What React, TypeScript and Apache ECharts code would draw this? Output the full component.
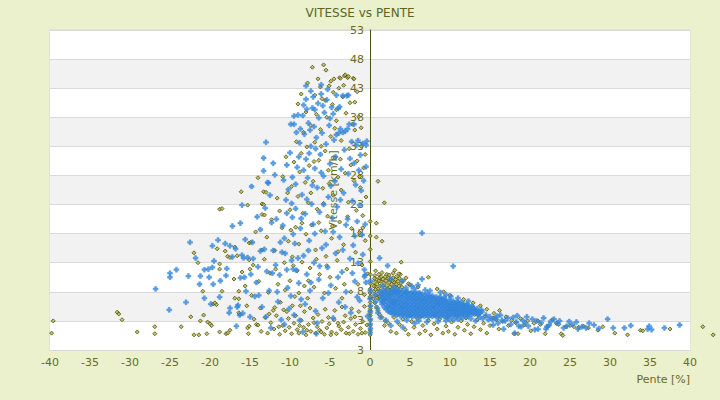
import React, { useEffect, useRef } from "react";
import * as echarts from "echarts";

const TITLE = "VITESSE vs PENTE";
const X_NAME = "Pente [%]";
const Y_NAME = "Vitesse [km/h]";
const X_MIN = -40;
const X_MAX = 40;
const X_STEP = 5;
const Y_MIN = -2;
const Y_MAX = 53;
const Y_STEP = 5;
const xTickLabels = ["-40", "-35", "-30", "-25", "-20", "-15", "-10", "-5", "0", "5", "10", "15", "20", "25", "30", "35", "40"];
const yTickLabels = ["3", "3", "8", "13", "18", "23", "28", "33", "38", "43", "48", "53"];

// olive diamonds, negative slopes: low band
const oliveLeftLow: number[][] = [
  [-39.6, 3.0], [-39.8, 0.9], [-31.6, 4.5], [-31.4, 4.2], [-31.0, 3.2], [-29.1, 1.1], [-26.9, 2.0], [-26.9, 0.8],
  [-23.6, 2.0], [-22.4, 3.7], [-22.0, 0.6], [-21.4, 0.6], [-21.2, 3.0], [-20.8, 4.0], [-20.4, 0.8], [-20.0, 2.5],
  [-20.3, 2.8], [-19.8, 2.2], [-19.6, 5.9], [-19.2, 5.8], [-18.8, 1.1], [-18.0, 0.8], [-17.8, 0.9], [-17.5, 1.4],
  [-16.4, 4.4], [-16.2, 4.1], [-15.3, 1.8], [-15.1, 2.1], [-15.2, 0.8], [-14.5, 3.3], [-14.2, 2.4], [-14.0, 2.3],
  [-13.6, 1.2], [-13.1, 3.6], [-12.8, 0.9], [-12.4, 2.7], [-12.0, 1.6], [-11.7, 3.9], [-11.3, 0.7], [-10.9, 2.2],
  [-10.6, 1.3], [-10.2, 3.4], [-9.8, 0.8], [-9.5, 2.6], [-9.1, 1.5], [-8.9, 0.9], [-8.6, 3.1], [-8.3, 1.9],
  [-8.0, 0.6], [-7.7, 2.4], [-7.4, 1.2], [-7.1, 3.5], [-6.8, 0.9], [-6.6, 2.0], [-6.3, 1.4], [-6.0, 2.9],
  [-5.7, 0.7], [-5.4, 1.8], [-5.1, 2.5], [-4.8, 1.1], [-4.5, 3.2], [-4.2, 0.8], [-3.9, 2.1], [-3.6, 1.5],
  [-3.3, 2.8], [-3.0, 0.9], [-2.7, 1.9], [-2.4, 3.4], [-2.1, 1.2], [-1.8, 2.4], [-1.5, 0.7], [-1.2, 1.7],
  [-0.9, 2.9], [-0.6, 1.0], [-12.6, 4.2], [-11.9, 5.3], [-11.4, 2.0], [-10.8, 4.9], [-10.1, 1.9], [-9.7, 5.6],
  [-9.3, 3.9], [-8.8, 2.2], [-8.2, 4.6], [-7.9, 1.4], [-7.5, 5.2], [-7.0, 2.7], [-6.5, 4.1], [-6.1, 1.1],
  [-5.6, 5.0], [-5.2, 3.6], [-4.9, 0.6], [-4.4, 4.8], [-4.0, 2.6], [-3.5, 5.4], [-3.1, 3.9], [-2.6, 0.8],
  [-2.3, 5.1], [-1.9, 3.7], [-1.4, 4.6], [-1.0, 0.9], [-0.7, 5.5], [-0.4, 2.3],
];

// olive diamonds, negative slopes: upper cloud
const oliveLeftHigh: number[][] = [
  [-22.0, 14.7], [-21.5, 13.0], [-20.9, 8.1], [-19.4, 6.1], [-19.1, 15.4], [-18.8, 22.2], [-18.5, 22.3], [-18.8, 12.8],
  [-18.8, 11.9], [-18.5, 8.1], [-18.1, 15.0], [-17.8, 14.1], [-17.5, 13.9], [-16.9, 15.7], [-16.6, 14.2], [-16.9, 6.9],
  [-16.4, 8.1], [-16.4, 6.8], [-16.1, 25.2], [-15.3, 22.9], [-15.1, 16.4], [-14.9, 16.5], [-15.1, 13.5], [-15.0, 11.9],
  [-14.0, 27.6], [-13.5, 21.3], [-13.2, 21.2], [-13.3, 25.2], [-13.0, 25.1], [-13.5, 23.1], [-13.3, 23.0], [-13.5, 15.2],
  [-17.0, 10.2], [-16.0, 11.4], [-15.6, 9.0], [-15.4, 5.6], [-14.8, 7.4], [-14.6, 12.6], [-14.3, 18.3], [-13.9, 9.8],
  [-13.7, 5.2], [-13.2, 13.6], [-12.9, 17.4], [-12.7, 7.9], [-12.5, 11.2], [-12.3, 20.4], [-12.1, 4.8], [-11.9, 15.1],
  [-11.6, 24.1], [-11.5, 9.3], [-11.2, 6.2], [-11.0, 19.0], [-10.9, 27.8], [-10.7, 13.0], [-10.5, 31.2], [-10.4, 4.6],
  [-10.2, 16.7], [-10.0, 22.1], [-10.0, 9.9], [-9.8, 26.1], [-9.7, 14.0], [-9.5, 30.3], [-9.4, 7.2], [-9.3, 19.1],
  [-9.2, 33.8], [-9.1, 11.6], [-9.0, 24.4], [-8.9, 16.2], [-8.8, 28.6], [-8.7, 5.6], [-8.6, 31.8], [-8.5, 13.1],
  [-8.4, 21.5], [-8.3, 35.4], [-8.2, 9.0], [-8.1, 26.8], [-8.0, 17.9], [-7.9, 32.9], [-7.8, 6.9], [-7.7, 23.3],
  [-7.6, 29.7], [-7.5, 12.1], [-7.4, 36.6], [-7.3, 19.5], [-7.2, 46.6], [-7.1, 27.0], [-7.0, 8.8], [-6.9, 33.7],
  [-6.8, 15.2], [-6.7, 38.5], [-6.6, 22.2], [-6.5, 44.6], [-6.4, 30.6], [-6.3, 11.0], [-6.2, 35.9], [-6.1, 18.5],
  [-6.0, 41.2], [-5.9, 25.8], [-5.8, 47.0], [-5.7, 7.8], [-5.6, 32.2], [-5.5, 46.1], [-5.5, 14.1], [-5.4, 38.0],
  [-5.3, 21.0], [-5.2, 28.9], [-5.1, 43.4], [-5.0, 10.5], [-4.9, 44.2], [-4.9, 34.7], [-4.8, 17.2], [-4.7, 40.2],
  [-4.6, 42.3], [-4.6, 24.6], [-4.5, 44.6], [-4.4, 31.0], [-4.3, 8.6], [-4.2, 37.4], [-4.1, 13.4], [-4.0, 27.7],
  [-3.9, 43.0], [-3.8, 44.8], [-3.8, 20.0], [-3.7, 44.7], [-3.6, 34.0], [-3.5, 6.9], [-3.4, 41.5], [-3.3, 43.5],
  [-3.3, 16.1], [-3.2, 45.1], [-3.1, 28.4], [-3.1, 45.3], [-3.0, 38.7], [-2.9, 11.9], [-2.8, 44.8], [-2.7, 45.0],
  [-2.7, 23.4], [-2.6, 32.6], [-2.5, 40.5], [-2.4, 8.0], [-2.3, 18.9], [-2.1, 44.7], [-2.0, 44.6], [-2.0, 27.1],
  [-1.9, 35.8], [-1.8, 14.8], [-1.7, 22.0], [-1.6, 30.5], [-1.5, 9.3], [-1.4, 38.1], [-1.3, 18.2], [-1.2, 25.9],
  [-1.1, 33.0], [-1.0, 12.6], [-0.9, 21.1], [-0.8, 29.3], [-0.7, 7.5], [-0.6, 16.8], [-0.5, 24.3], [-0.3, 11.1],
  [-11.8, 11.9], [-11.3, 21.9], [-10.6, 8.3], [-10.3, 25.0], [-9.6, 12.5], [-9.9, 18.6], [-8.9, 7.8], [-8.5, 19.8],
  [-8.0, 38.9], [-7.7, 9.9], [-7.4, 25.0], [-7.0, 30.4], [-6.7, 13.6], [-6.4, 19.9], [-6.1, 33.0], [-5.8, 23.2],
  [-5.4, 12.5], [-5.1, 26.6], [-4.7, 19.3], [-4.4, 36.1], [-4.0, 14.9], [-3.6, 25.5], [-3.2, 9.3], [-2.8, 20.9],
  [-2.4, 29.8], [-2.2, 36.8], [-1.6, 42.4], [-1.3, 27.8], [-0.9, 19.0], [-0.6, 31.6], [-8.6, 42.0], [-9.0, 40.3],
  [-7.8, 43.9], [-6.9, 41.8], [-6.2, 43.2], [-5.6, 40.9], [-4.2, 39.3], [-3.7, 30.8], [-1.9, 40.6], [-1.1, 36.2],
];

// olive diamonds sitting on the zero-slope line
const oliveZero: number[][] = [
  [0.02, 0.6], [0.03, 1.4], [0.02, 2.2], [0.04, 3.1], [0.02, 3.9], [0.03, 4.7], [0.02, 5.5], [0.03, 6.2],
  [0.02, 7.8], [0.03, 9.4], [0.02, 11.0], [0.03, 13.2], [0.02, 15.3], [0.03, 17.6], [0.02, 20.1],
  [0.02, 6.9], [0.04, 7.2], [0.03, 8.5], [0.02, 4.3], [0.03, 5.1],
];

// olive diamonds, positive slopes: cluster near 0-4 %
const oliveRightCluster: number[][] = [
  [0.5, 9.6], [0.6, 8.9], [0.5, 8.1], [0.7, 7.4], [0.8, 10.1], [0.9, 9.3], [1.0, 8.5], [1.0, 7.7],
  [1.1, 6.9], [1.2, 10.4], [1.3, 9.8], [1.3, 9.0], [1.4, 8.2], [1.5, 7.5], [1.6, 10.2], [1.7, 9.5],
  [1.8, 8.7], [1.8, 7.9], [1.9, 10.6], [2.0, 9.9], [2.1, 9.1], [2.2, 8.4], [2.3, 10.3], [2.4, 9.6],
  [2.5, 8.8], [2.6, 10.0], [2.7, 9.3], [2.8, 8.5], [2.9, 10.4], [3.0, 9.7], [3.1, 8.9], [3.2, 10.1],
  [3.3, 9.3], [3.4, 8.6], [3.5, 9.8], [3.6, 9.0], [3.7, 10.3], [3.9, 9.5], [4.0, 8.8], [4.2, 9.9],
  [0.4, 6.8], [0.6, 6.1], [0.8, 5.4], [1.0, 4.8], [1.2, 4.1], [1.5, 3.6], [1.9, 3.0], [2.3, 2.6],
  [2.1, 11.0], [1.5, 11.3], [2.9, 11.2], [3.8, 11.0], [4.5, 10.4], [4.8, 9.4], [0.7, 11.6],
  [0.6, 10.8], [1.1, 11.0], [1.4, 10.6], [0.9, 7.0], [1.2, 7.2], [2.0, 7.8], [2.5, 7.5], [3.0, 8.0],
  [1.7, 6.8], [0.45, 9.0], [0.55, 10.3], [2.4, 10.9], [3.3, 10.6], [3.6, 11.1], [2.8, 9.9], [1.1, 9.9], [0.7, 8.4],
  [1.0, 27.0], [1.8, 23.3], [0.8, 19.8], [0.8, 17.4], [1.5, 16.7], [3.1, 11.7], [3.9, 13.1], [7.3, 10.5], [5.0, 9.2],
];

// olive diamonds, positive slopes: below the dense band and the long tail
const oliveRightTail: number[][] = [
  [1.8, 2.2], [2.6, 1.2], [3.0, 3.6], [3.3, 0.9], [3.7, 2.4], [4.1, 3.3], [4.4, 1.5], [4.8, 0.7],
  [5.2, 2.9], [5.5, 1.9], [5.9, 3.4], [6.2, 0.8], [6.6, 2.2], [6.9, 1.3], [7.3, 3.1], [7.6, 0.6],
  [8.0, 2.5], [8.4, 1.6], [8.7, 3.3], [9.1, 0.9], [9.5, 2.1], [9.8, 1.2], [10.2, 2.8], [10.6, 0.7],
  [11.0, 1.9], [11.4, 3.0], [11.8, 1.4], [12.2, 2.4], [12.6, 0.8], [13.0, 2.0], [13.4, 3.2], [13.8, 1.5],
  [14.2, 2.6], [14.6, 0.9], [15.0, 2.2], [5.0, 3.9], [6.4, 3.8], [8.2, 4.0], [9.6, 3.6], [10.9, 3.8],
  [12.0, 3.5], [13.1, 4.1], [14.4, 3.8], [15.4, 3.5], [8.4, 8.5], [10.0, 7.4], [11.7, 6.7], [12.9, 6.1],
  [13.8, 5.6], [14.6, 5.0], [15.5, 4.3], [16.2, 4.8], [9.2, 8.0], [6.0, 8.8],
  [15.8, 3.2], [16.1, 1.6], [16.6, 2.9], [17.0, 3.7], [17.3, 2.2], [17.7, 3.1], [18.0, 0.8], [18.2, 2.7],
  [18.5, 0.8], [18.8, 3.4], [19.3, 2.3], [19.7, 3.0], [20.1, 1.3], [20.5, 2.6], [21.0, 3.0], [21.3, 2.4],
  [21.9, 0.8], [22.3, 2.1], [22.8, 3.2], [23.3, 2.6], [23.6, 2.4], [23.9, 0.8], [24.1, 0.5], [24.5, 2.0],
  [25.0, 2.2], [25.5, 2.0], [26.1, 1.9], [26.7, 2.1], [27.3, 1.8], [28.5, 1.4], [29.1, 2.0], [30.6, 0.9],
  [32.2, 0.6], [33.8, 1.4], [34.1, 1.3], [37.5, 1.6], [41.6, 2.0], [42.9, 0.6],
];

// blue crosses, negative slopes
const blueLeft: number[][] = [
  [-26.8, 8.5], [-25.1, 4.9], [-25.0, 11.2], [-25.0, 10.5], [-24.2, 11.8], [-22.7, 10.7], [-22.5, 16.5], [-21.3, 9.3],
  [-21.2, 10.7], [-20.7, 11.8], [-20.7, 6.9], [-20.2, 11.9], [-20.1, 10.5], [-19.9, 5.9], [-19.7, 12.2], [-19.7, 15.9],
  [-19.6, 9.3], [-19.5, 13.3], [-19.0, 16.9], [-18.7, 9.9], [-18.1, 16.3], [-18.0, 10.8], [-17.6, 4.4], [-17.5, 5.2],
  [-17.5, 15.9], [-17.2, 19.3], [-17.2, 14.0], [-16.8, 15.4], [-16.7, 2.1], [-16.6, 5.4], [-16.5, 5.7], [-16.3, 4.0],
  [-16.2, 19.8], [-16.2, 10.4], [-16.0, 22.9], [-16.0, 14.3], [-15.8, 13.8], [-15.7, 10.5], [-15.6, 17.0], [-15.3, 13.9],
  [-15.0, 3.7], [-14.9, 11.0], [-14.8, 26.1], [-14.6, 13.7], [-14.4, 7.2], [-14.2, 9.6], [-14.0, 12.3], [-13.7, 18.7],
  [-13.7, 15.0], [-13.5, 5.4], [-13.3, 28.8], [-13.3, 31.0], [-13.2, 15.3], [-13.0, 33.7], [-13.0, 3.7], [-12.9, 11.5],
  [-12.8, 26.8], [-12.7, 26.7], [-12.6, 8.2], [-12.4, 1.8], [-12.3, 19.9], [-12.1, 30.1], [-12.1, 15.1], [-11.9, 28.1],
  [-11.8, 12.6], [-11.7, 20.5], [-11.5, 6.3], [-11.3, 10.9], [-11.1, 3.2], [-11.0, 14.8], [-10.8, 27.2], [-10.7, 17.2],
  [-10.5, 23.8], [-10.4, 21.5], [-10.4, 11.8], [-10.3, 8.7], [-10.1, 5.1], [-10.0, 31.9], [-9.9, 36.8], [-9.8, 23.2],
  [-9.8, 13.4], [-9.7, 20.8], [-9.6, 11.9], [-9.5, 38.2], [-9.5, 36.8], [-9.5, 4.0], [-9.4, 16.3], [-9.3, 26.5],
  [-9.2, 11.7], [-9.1, 29.4], [-9.0, 38.4], [-8.9, 9.5], [-8.8, 33.6], [-8.7, 18.9], [-8.6, 6.7], [-8.5, 24.7],
  [-8.4, 38.3], [-8.4, 1.1], [-8.3, 14.2], [-8.2, 35.1], [-8.1, 21.4], [-8.0, 43.4], [-8.0, 41.1], [-8.0, 30.8],
  [-7.9, 11.0], [-7.8, 27.6], [-7.7, 37.0], [-7.6, 16.8], [-7.5, 35.8], [-7.5, 8.2], [-7.4, 42.5], [-7.4, 33.0],
  [-7.3, 23.1], [-7.2, 39.6], [-7.1, 19.6], [-7.0, 13.0], [-7.0, 36.4], [-6.9, 29.2], [-6.8, 4.7], [-6.7, 0.8],
  [-6.7, 34.5], [-6.6, 25.9], [-6.5, 40.4], [-6.4, 10.1], [-6.4, 37.9], [-6.3, 21.7], [-6.2, 31.6], [-6.1, 43.6],
  [-6.1, 42.0], [-6.0, 15.5], [-6.0, 35.3], [-5.9, 6.9], [-5.8, 27.9], [-5.7, 38.8], [-5.6, 18.4], [-5.5, 33.4],
  [-5.4, 41.0], [-5.3, 42.8], [-5.3, 12.2], [-5.2, 24.3], [-5.1, 36.6], [-5.0, 30.0], [-4.9, 9.1], [-4.8, 39.7],
  [-4.7, 20.7], [-4.6, 3.5], [-4.5, 34.1], [-4.4, 27.0], [-4.3, 14.6], [-4.2, 41.8], [-4.2, 35.0], [-4.1, 22.6],
  [-4.0, 39.5], [-3.9, 35.3], [-3.9, 6.2], [-3.8, 39.8], [-3.8, 17.4], [-3.7, 36.0], [-3.6, 29.1], [-3.5, 11.4],
  [-3.4, 41.7], [-3.4, 35.4], [-3.3, 25.0], [-3.2, 32.4], [-3.1, 35.6], [-3.0, 8.0], [-3.0, 19.5], [-2.9, 41.7],
  [-2.8, 36.0], [-2.7, 41.8], [-2.7, 28.3], [-2.6, 36.8], [-2.5, 13.7], [-2.4, 4.4], [-2.3, 33.8], [-2.2, 23.6],
  [-2.1, 16.0], [-2.0, 36.8], [-2.0, 30.1], [-1.9, 9.8], [-1.8, 26.4], [-1.7, 33.2], [-1.6, 20.1], [-1.5, 34.0],
  [-1.5, 12.9], [-1.4, 28.9], [-1.3, 6.5], [-1.2, 31.5], [-1.1, 25.4], [-1.0, 17.8], [-0.9, 33.5], [-0.8, 27.1],
  [-0.7, 10.6], [-0.5, 33.2], [-0.5, 29.5], [-0.4, 33.9], [-0.3, 3.8],
  [-10.9, 19.4], [-10.6, 14.6], [-10.2, 25.6], [-9.9, 7.3], [-9.6, 17.9], [-9.3, 22.3], [-9.0, 13.8], [-8.8, 3.1],
  [-8.6, 20.6], [-8.3, 28.9], [-8.1, 5.9], [-7.9, 23.9], [-7.7, 15.1], [-7.4, 9.6], [-7.2, 26.3], [-6.9, 18.0],
  [-6.6, 2.6], [-6.3, 12.4], [-6.1, 28.5], [-5.8, 23.0], [-5.5, 16.1], [-5.2, 7.8], [-4.9, 26.2], [-4.6, 18.3],
  [-4.3, 31.2], [-4.0, 10.5], [-3.7, 23.8], [-3.4, 15.2], [-3.1, 5.4], [-2.8, 20.5], [-2.5, 30.9], [-2.2, 11.2],
  [-1.9, 17.6], [-1.6, 7.1], [-1.3, 22.9], [-0.9, 14.4], [-0.6, 19.6], [-11.6, 8.0], [-11.2, 16.5], [-10.7, 2.4],
  [-12.2, 11.2], [-13.9, 7.4], [-14.7, 16.5], [-15.5, 8.1], [-17.9, 12.0], [-18.8, 7.1], [-21.8, 13.8], [-23.0, 6.2],
  [-15.9, 4.3], [-13.1, 22.4], [-12.5, 24.6], [-14.1, 20.9], [-8.9, 31.2], [-9.7, 27.7], [-10.4, 29.8], [-7.6, 31.8],
  [-6.8, 32.6], [-8.7, 36.0], [-7.9, 39.4], [-6.9, 39.3], [-5.9, 40.0], [-5.0, 37.8], [-4.6, 38.6], [-7.1, 41.5],
  [-8.3, 40.1], [-9.2, 35.4], [-0.6, 10.9], [-0.7, 11.8], [-0.5, 9.6],
];

// blue crosses on the zero-slope line
const blueZero: number[][] = [
  [0.03, 1.0], [0.05, 1.7], [0.02, 2.5], [0.04, 3.3], [0.03, 4.6], [0.05, 5.6], [0.02, 6.8], [0.04, 8.2], [0.03, 9.9],
];

// blue crosses, positive slopes: dense band
const blueRightBand: number[][] = [
  [1.3, 6.6], [1.4, 7.3], [1.2, 8.0], [1.5, 5.9], [1.8, 5.3], [1.7, 6.1], [1.9, 6.8], [1.8, 7.5], [1.7, 8.2],
  [2.3, 4.6], [2.2, 5.3], [2.4, 5.9], [2.3, 6.6], [2.2, 7.2], [2.4, 7.9], [2.8, 4.2], [2.7, 4.9], [2.9, 5.5],
  [2.8, 6.2], [2.7, 6.9], [2.9, 7.6], [2.8, 8.2], [3.3, 4.0], [3.2, 4.6], [3.4, 5.2], [3.3, 5.9], [3.2, 6.5],
  [3.4, 7.2], [3.3, 7.9], [3.2, 8.4], [3.8, 3.9], [3.7, 4.5], [3.9, 5.1], [3.8, 5.7], [3.7, 6.4], [3.9, 7.0],
  [3.8, 7.6], [3.7, 8.3], [4.3, 3.8], [4.2, 4.4], [4.4, 5.0], [4.3, 5.6], [4.2, 6.2], [4.4, 6.9], [4.3, 7.5],
  [4.2, 8.1], [4.8, 3.8], [4.7, 4.4], [4.9, 4.9], [4.8, 5.5], [4.7, 6.1], [4.9, 6.8], [4.8, 7.4], [4.7, 8.0],
  [5.3, 3.7], [5.2, 4.3], [5.4, 4.9], [5.3, 5.5], [5.2, 6.1], [5.4, 6.7], [5.3, 7.3], [5.2, 7.9], [5.8, 3.8],
  [5.7, 4.4], [5.9, 5.0], [5.8, 5.6], [5.7, 6.2], [5.9, 6.8], [5.8, 7.4], [5.7, 8.0], [6.3, 3.7], [6.2, 4.3],
  [6.4, 4.9], [6.3, 5.4], [6.2, 6.0], [6.4, 6.6], [6.3, 7.2], [6.2, 7.8], [6.8, 3.8], [6.7, 4.4], [6.9, 5.0],
  [6.8, 5.6], [6.7, 6.2], [6.9, 6.8], [6.8, 7.4], [7.3, 3.7], [7.2, 4.3], [7.4, 4.9], [7.3, 5.5], [7.2, 6.1],
  [7.4, 6.7], [7.3, 7.3], [7.2, 7.7], [7.8, 3.8], [7.7, 4.4], [7.9, 5.0], [7.8, 5.6], [7.7, 6.2], [7.9, 6.8],
  [7.8, 7.3], [8.3, 3.7], [8.2, 4.3], [8.4, 4.9], [8.3, 5.5], [8.2, 6.1], [8.4, 6.6], [8.3, 7.1], [8.8, 3.8],
  [8.7, 4.4], [8.9, 4.9], [8.8, 5.5], [8.7, 6.0], [8.9, 6.6], [8.8, 7.1], [9.3, 3.7], [9.2, 4.3], [9.4, 4.9],
  [9.3, 5.4], [9.2, 6.0], [9.4, 6.5], [9.3, 6.9], [9.8, 3.8], [9.7, 4.4], [9.9, 4.9], [9.8, 5.5], [9.7, 6.0],
  [9.9, 6.6], [10.3, 3.8], [10.2, 4.4], [10.4, 4.9], [10.3, 5.4], [10.2, 5.9], [10.4, 6.4], [10.8, 3.9], [10.7, 4.4],
  [10.9, 4.9], [10.8, 5.4], [10.7, 5.9], [10.9, 6.3], [11.3, 3.9], [11.2, 4.4], [11.4, 4.9], [11.3, 5.4], [11.2, 5.9],
  [11.4, 6.2], [11.8, 4.0], [11.7, 4.5], [11.9, 5.0], [11.8, 5.5], [11.7, 5.9], [12.3, 4.1], [12.2, 4.6], [12.4, 5.1],
  [12.3, 5.6], [12.8, 4.2], [12.7, 4.7], [12.9, 5.2], [12.8, 5.5], [13.3, 4.3], [13.2, 4.8], [13.4, 5.1], [13.8, 4.4],
  [13.9, 4.9], [2.0, 7.0], [3.0, 6.0], [4.0, 5.3], [5.0, 6.5], [6.0, 5.2], [7.0, 6.4], [8.0, 5.3], [9.0, 6.3],
  [10.0, 5.1], [11.0, 5.6], [12.0, 4.8], [6.5, 7.6], [7.6, 7.1], [3.5, 8.0], [4.5, 7.8], [5.5, 7.7],
  [0.7, 6.3], [0.9, 5.2], [1.0, 4.4], [0.6, 7.5], [1.3, 3.6], [2.0, 3.1], [2.6, 2.2], [3.4, 2.9], [4.1, 1.9],
  [5.6, 2.6], [6.1, 3.0], [7.1, 2.8], [8.5, 2.9], [9.5, 3.0], [4.6, 3.1], [1.6, 9.0], [3.0, 8.8], [4.5, 8.7],
  [5.5, 8.6], [7.5, 8.2], [6.0, 9.2], [8.8, 7.9], [9.5, 7.5], [11.0, 6.9], [12.3, 6.4], [10.1, 7.2],
  [1.2, 13.8], [2.2, 12.5], [10.4, 12.4], [6.5, 10.2], [4.0, 9.9], [2.6, 10.2], [6.5, 18.1], [5.2, 9.0], [6.9, 8.3],
];

// blue crosses, positive slopes: more of the dense band
const blueRightBand2: number[][] = [
  [1.55, 6.3], [1.6, 7.0], [1.5, 7.7], [2.05, 5.0], [2.1, 5.6], [2.0, 6.3], [2.05, 7.6], [2.1, 8.3],
  [2.55, 4.5], [2.5, 5.2], [2.6, 5.8], [2.55, 6.5], [2.5, 7.2], [2.6, 7.9], [3.05, 4.3], [3.0, 4.9],
  [3.1, 5.6], [3.05, 6.3], [3.0, 6.8], [3.1, 7.5], [3.05, 8.2], [3.55, 4.2], [3.5, 4.8], [3.6, 5.5],
  [3.55, 6.1], [3.5, 6.7], [3.6, 7.4], [3.55, 8.1], [4.05, 4.1], [4.0, 4.7], [4.1, 5.8], [4.05, 6.5],
  [4.0, 7.2], [4.1, 7.9], [4.55, 4.0], [4.5, 4.7], [4.6, 5.3], [4.55, 5.9], [4.5, 6.5], [4.6, 7.1],
  [4.55, 8.0], [5.05, 4.0], [5.0, 4.6], [5.1, 5.2], [5.05, 5.8], [5.0, 7.1], [5.1, 7.7], [5.55, 4.0],
  [5.5, 4.6], [5.6, 5.2], [5.55, 5.9], [5.5, 6.5], [5.6, 7.1], [6.05, 4.0], [6.0, 4.6], [6.1, 5.7],
  [6.05, 6.4], [6.0, 7.0], [6.1, 7.7], [6.55, 4.0], [6.5, 4.6], [6.6, 5.2], [6.55, 5.8], [6.5, 6.4],
  [6.6, 7.0], [7.05, 4.0], [7.0, 4.6], [7.1, 5.2], [7.05, 5.8], [7.1, 7.0], [7.55, 4.0], [7.5, 4.6],
  [7.6, 5.3], [7.55, 5.9], [7.5, 6.5], [8.05, 4.0], [8.0, 4.6], [8.1, 5.8], [8.05, 6.4], [8.0, 7.0],
  [8.55, 4.0], [8.5, 4.6], [8.6, 5.2], [8.55, 5.8], [8.5, 6.3], [8.6, 6.9], [9.05, 4.0], [9.0, 4.6],
  [9.1, 5.2], [9.05, 5.7], [9.1, 6.7], [9.55, 4.0], [9.5, 4.6], [9.6, 5.2], [9.55, 5.7], [9.5, 6.2],
  [10.05, 4.1], [10.0, 4.6], [10.1, 5.6], [10.05, 6.2], [10.55, 4.1], [10.5, 4.6], [10.6, 5.1], [10.55, 5.6],
  [10.5, 6.1], [11.05, 4.1], [11.0, 4.6], [11.1, 5.1], [11.05, 6.0], [11.55, 4.2], [11.5, 4.7], [11.6, 5.2],
  [11.55, 5.7], [12.05, 4.3], [12.0, 5.3], [12.1, 5.8], [12.55, 4.4], [12.5, 4.9], [12.6, 5.4], [13.05, 4.5],
  [13.0, 5.0], [13.55, 4.6], [13.5, 4.1],
];

// blue crosses, positive slopes: tail
const blueRightTail: number[][] = [
  [12.0, 5.6], [12.6, 3.4], [13.1, 4.7], [13.5, 4.2], [13.2, 3.0], [14.1, 3.4], [14.0, 4.6], [14.5, 4.0],
  [14.8, 3.2], [15.3, 3.2], [15.4, 2.3], [15.9, 3.8], [16.0, 2.6], [16.7, 1.6], [16.5, 3.1], [17.2, 3.5],
  [17.6, 2.4], [18.1, 0.9], [18.3, 2.8], [18.6, 2.1], [18.9, 2.0], [19.4, 2.6], [19.8, 2.1], [20.3, 3.3],
  [20.6, 1.5], [21.0, 1.6], [21.4, 2.7], [22.0, 1.6], [22.1, 2.0], [22.6, 2.9], [23.0, 3.3], [23.4, 2.6],
  [24.2, 1.8], [24.6, 2.1], [25.3, 2.4], [26.0, 1.6], [26.5, 2.0], [27.0, 1.8], [28.0, 2.3], [28.6, 1.7],
  [29.7, 3.3], [30.4, 1.8], [31.8, 1.8], [32.6, 2.2], [34.9, 2.1], [35.2, 1.5], [34.7, 1.6], [36.8, 1.8],
  [38.7, 2.3], [15.0, 3.7], [15.7, 3.4], [16.3, 4.0], [16.9, 3.0], [17.9, 3.6], [18.4, 3.9], [19.1, 3.1],
  [19.6, 3.7], [20.8, 3.0], [21.7, 3.5], [22.4, 2.3], [23.7, 3.0], [24.9, 2.9], [25.8, 2.8], [27.4, 2.6],
  [11.0, 3.3], [11.6, 3.5], [10.5, 3.2], [9.9, 3.3], [12.2, 3.8], [13.7, 3.6],
];

const PLUS = "path://M1.6,0L3.4,0L3.4,1.6L5,1.6L5,3.4L3.4,3.4L3.4,5L1.6,5L1.6,3.4L0,3.4L0,1.6L1.6,1.6Z";
const OLIVE = "#4f4f08";
const TEXT = "#6a6a22";
const BLUE = "#3487dc";

export default function App() {
  const ref = useRef<HTMLDivElement>(null);
  useEffect(() => {
    if (!ref.current) return;
    const chart = echarts.init(ref.current, null, { renderer: "svg" });
    chart.setOption({
      animation: false,
      backgroundColor: "#ebf0cd",
      textStyle: { fontFamily: "DejaVu Sans" },
      title: {
        text: TITLE,
        left: "center",
        top: 2,
        textStyle: { fontSize: 12, fontWeight: "normal", color: "#5b6620", fontFamily: "DejaVu Sans" },
      },
      grid: {
        left: 50,
        right: 30,
        top: 30,
        bottom: 50,
        show: true,
        backgroundColor: "#ffffff",
        borderColor: "#d9d9d9",
        borderWidth: 1,
      },
      xAxis: {
        type: "value",
        min: X_MIN,
        max: X_MAX,
        interval: X_STEP,
        name: X_NAME,
        nameLocation: "end",
        nameGap: 0,
        nameTextStyle: { color: TEXT, fontSize: 11, align: "right", verticalAlign: "top", padding: [24, 0, 0, 0] },
        axisLine: { show: true, onZero: false, lineStyle: { color: "#d9d9d9" } },
        axisTick: { show: false },
        splitLine: { show: false },
        axisLabel: {
          color: TEXT,
          fontSize: 11,
          margin: 7,
          formatter: (_v: number, i: number) => xTickLabels[i],
        },
      },
      yAxis: {
        type: "value",
        position: "left",
        offset: -320,
        min: Y_MIN,
        max: Y_MAX,
        interval: Y_STEP,
        name: Y_NAME,
        nameLocation: "middle",
        nameRotate: 90,
        nameGap: 24,
        nameTextStyle: { color: TEXT, fontSize: 11 },
        axisLine: { show: true, onZero: false, lineStyle: { color: OLIVE, width: 1 } },
        axisTick: { show: false },
        axisLabel: {
          color: TEXT,
          fontSize: 11,
          margin: 6,
          formatter: (_v: number, i: number) => yTickLabels[i],
        },
        splitLine: { show: true, lineStyle: { color: "#d9d9d9" } },
        splitArea: { show: true, areaStyle: { color: ["#ffffff", "#f2f2f2"] } },
      },
      series: [
        {
          type: "scatter",
          name: "olive",
          data: [...oliveLeftLow, ...oliveLeftHigh, ...oliveZero, ...oliveRightCluster, ...oliveRightTail],
          symbol: "diamond",
          symbolSize: 4,
          clip: false,
          progressive: 0,
          itemStyle: { color: "#b4b44c", borderColor: OLIVE, borderWidth: 1 },
          z: 3,
        },
        {
          type: "scatter",
          name: "blue",
          data: [...blueLeft, ...blueZero, ...blueRightBand, ...blueRightBand2, ...blueRightTail],
          symbol: PLUS,
          symbolSize: 5,
          clip: false,
          progressive: 0,
          itemStyle: { color: BLUE, borderColor: BLUE, borderWidth: 0.5 },
          z: 4,
        },
      ],
    });
    return () => chart.dispose();
  }, []);
  return <div ref={ref} style={{ position: "absolute", left: 0, top: 0, width: 720, height: 400 }} />;
}
